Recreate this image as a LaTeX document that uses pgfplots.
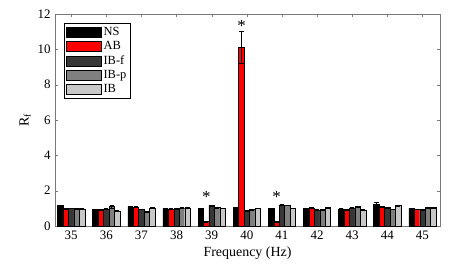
\documentclass[border=0pt]{standalone}
\usepackage{pgfplots}
\pgfplotsset{compat=1.18}
\usepackage{fontspec}
\setmainfont{Liberation Serif}
\definecolor{cIBf}{RGB}{55,55,55}
\definecolor{cIBp}{RGB}{128,128,128}
\definecolor{cIB}{RGB}{200,200,200}
\definecolor{axgray}{RGB}{120,120,120}
\begin{document}
\fontsize{13}{15}\selectfont
\begin{tikzpicture}
\begin{axis}[
  scale only axis,
  width=385bp, height=212bp,
  xmin=34.54, xmax=45.5,
  ymin=0, ymax=12,
  xtick={35,36,37,38,39,40,41,42,43,44,45},
  ytick={0,2,4,6,8,10,12},
  ybar=0pt,
  bar width=0.155,
  /pgf/number format/assume math mode=true,
  tick label style={font=\fontsize{13}{15}\selectfont, black},
  label style={font=\fontsize{14}{16}\selectfont},
  xlabel={Frequency (Hz)},
  ylabel={R\textsubscript{f}},
  xlabel style={yshift=1bp},
  ylabel style={yshift=-2bp},
  axis line style={axgray},
  major tick style={axgray},
  tick align=inside,
  major tick length=3bp,
  legend cell align=left,
  legend style={at={(0.023,0.958)}, anchor=north west, draw=black, line width=0.5pt,
    font=\fontsize{12.5}{14}\selectfont, inner sep=2pt, row sep=0pt},
  legend image code/.code={\draw[#1, line width=0.5pt, fill opacity=1] (0bp,-5bp) rectangle (35bp,5bp);},
  error bars/y dir=both,
  error bars/y explicit,
  error bars/error bar style={black, line width=0.5pt},
  error bars/error mark options={rotate=90, mark size=2.2bp, black, line width=0.5pt},
  every axis plot/.append style={draw=black, line width=0.4pt},
]
\addplot[fill=black] coordinates {
 (35,1.15) +- (0,0.03) (36,0.93) +- (0,0.02) (37,1.08) +- (0,0.03) (38,0.97) +- (0,0.02)
 (39,1.0) +- (0,0.02) (40,1.05) +- (0,0.02) (41,1.0) +- (0,0.02) (42,1.0) +- (0,0.02)
 (43,0.97) +- (0,0.02) (44,1.22) +- (0,0.1) (45,1.0) +- (0,0.02)};
\addplot[fill=red] coordinates {
 (35,0.97) +- (0,0.02) (36,0.93) +- (0,0.02) (37,1.08) +- (0,0.02) (38,0.97) +- (0,0.02)
 (39,0.25) +- (0,0.02) (40,10.1) +- (0,0.9) (41,0.25) +- (0,0.02) (42,1.02) +- (0,0.02)
 (43,0.9) +- (0,0.02) (44,1.1) +- (0,0.02) (45,0.95) +- (0,0.02)};
\addplot[fill=cIBf] coordinates {
 (35,1.0) +- (0,0.02) (36,0.97) +- (0,0.02) (37,0.95) +- (0,0.02) (38,0.97) +- (0,0.02)
 (39,1.15) +- (0,0.02) (40,0.85) +- (0,0.02) (41,1.2) +- (0,0.02) (42,0.9) +- (0,0.02)
 (43,1.03) +- (0,0.02) (44,1.05) +- (0,0.02) (45,0.9) +- (0,0.02)};
\addplot[fill=cIBp] coordinates {
 (35,0.98) +- (0,0.02) (36,1.1) +- (0,0.07) (37,0.82) +- (0,0.02) (38,1.02) +- (0,0.02)
 (39,1.05) +- (0,0.02) (40,0.93) +- (0,0.02) (41,1.18) +- (0,0.02) (42,0.9) +- (0,0.02)
 (43,1.1) +- (0,0.02) (44,0.95) +- (0,0.02) (45,1.05) +- (0,0.02)};
\addplot[fill=cIB] coordinates {
 (35,0.97) +- (0,0.02) (36,0.85) +- (0,0.02) (37,1.02) +- (0,0.02) (38,1.02) +- (0,0.02)
 (39,1.0) +- (0,0.02) (40,1.0) +- (0,0.02) (41,1.0) +- (0,0.02) (42,1.05) +- (0,0.02)
 (43,0.9) +- (0,0.02) (44,1.15) +- (0,0.02) (45,1.05) +- (0,0.02)};
\legend{NS,AB,IB-f,IB-p,IB}
\node[font=\fontsize{17}{17}\selectfont] at (axis cs:38.85,1.65) {*};
\node[font=\fontsize{17}{17}\selectfont] at (axis cs:39.85,11.3) {*};
\node[font=\fontsize{17}{17}\selectfont] at (axis cs:40.85,1.65) {*};
\end{axis}
\pgfresetboundingbox
\path ([shift={(-55bp,-48bp)}]current axis.south west) rectangle ([shift={(20bp,14bp)}]current axis.north east);
\end{tikzpicture}
\end{document}
